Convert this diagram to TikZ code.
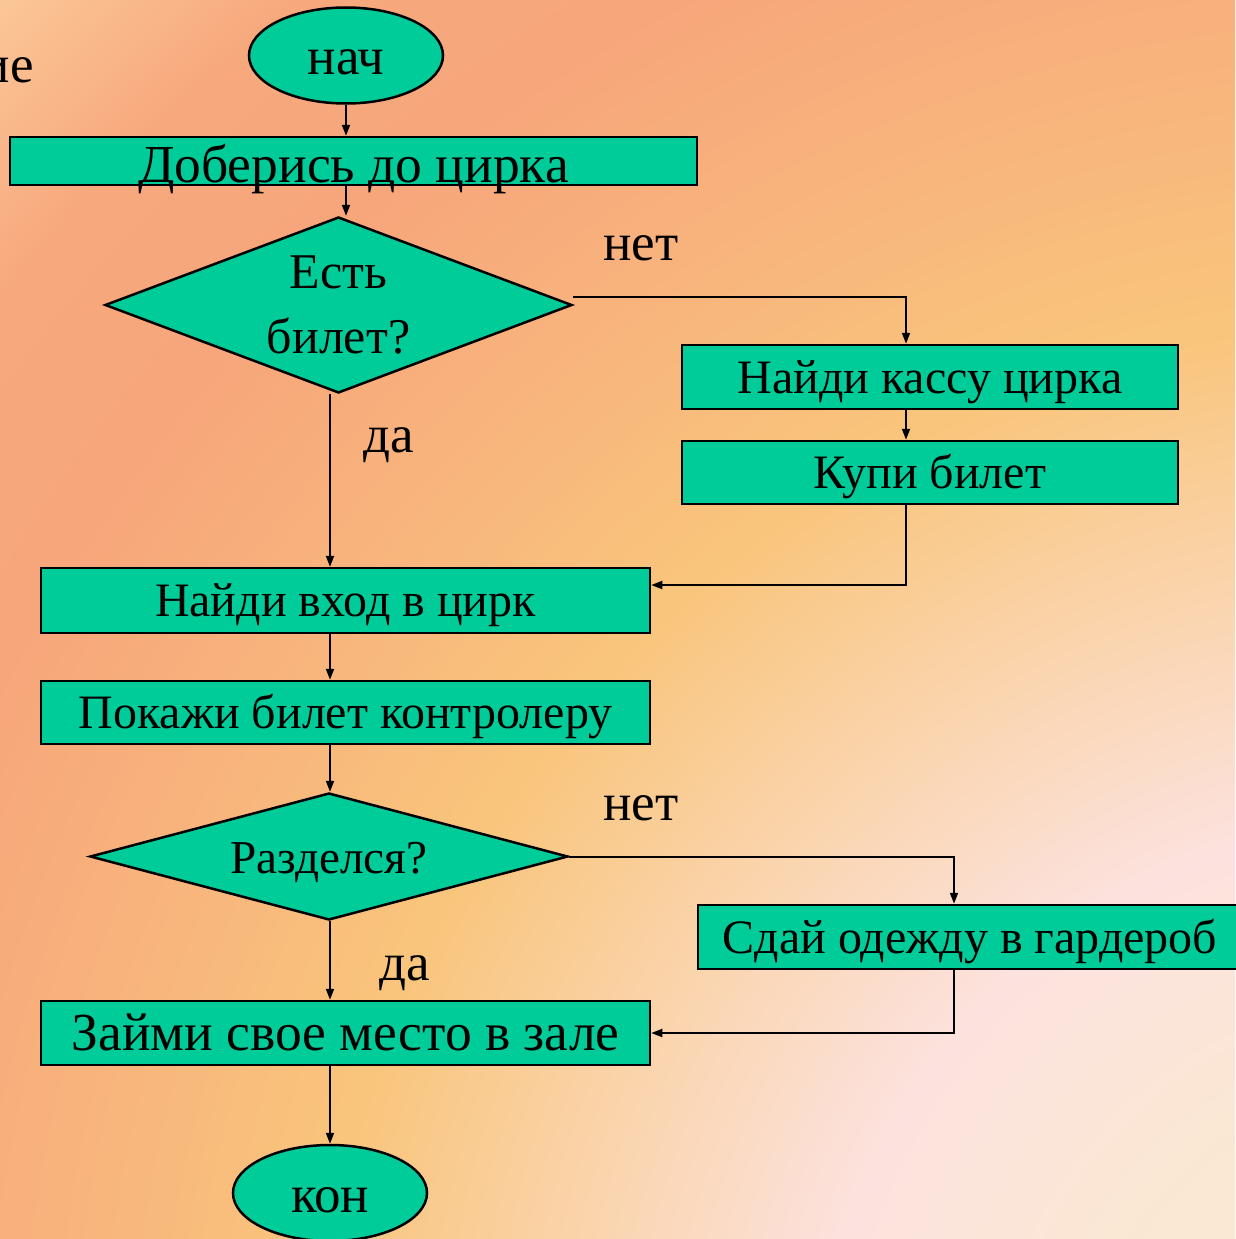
\documentclass[tikz,border=0pt]{standalone}
\usepackage{fontspec}
\setmainfont{Liberation Serif}
\usetikzlibrary{shapes.geometric,arrows.meta}
\definecolor{boxgreen}{RGB}{0,204,153}
\definecolor{bgA}{RGB}{250,232,210}
\definecolor{bgB}{RGB}{252,226,222}
\definecolor{bgC}{RGB}{250,212,172}
\definecolor{bgD}{RGB}{249,197,124}
\definecolor{bgE}{RGB}{248,180,124}
\definecolor{bgF}{RGB}{247,166,123}
\definecolor{bgG}{RGB}{247,168,125}
\definecolor{bgH}{RGB}{251,198,150}
\definecolor{bgI}{RGB}{252,204,156}
\pgfdeclareradialshading{bgrad}{\pgfpoint{0bp}{0bp}}{color(0bp)=(bgA); color(3.6bp)=(bgA); color(7.1bp)=(bgB); color(10.1bp)=(bgC); color(13.1bp)=(bgD); color(16.1bp)=(bgE); color(19bp)=(bgF); color(21.4bp)=(bgG); color(23.8bp)=(bgH); color(25bp)=(bgI); color(50bp)=(bgI)}
\begin{document}
\begin{tikzpicture}[x=1pt,y=-1pt,
  box/.style={draw=black, line width=2.5pt, fill=boxgreen, rectangle, inner sep=0pt,
    text height=32pt, text depth=0pt, font=\fontsize{48}{56}\selectfont},
  term/.style={draw=black, line width=2.5pt, fill=boxgreen, ellipse, inner sep=0pt,
    minimum width=194, minimum height=96, text height=38pt, text depth=0pt,
    font=\fontsize{53}{60}\selectfont},
  decide/.style={draw=black, line width=2.5pt, fill=boxgreen, diamond, inner sep=0pt,
    align=center, font=\fontsize{50}{65}\selectfont},
  lab/.style={anchor=base, inner sep=0pt, font=\fontsize{53}{60}\selectfont},
  arr/.style={line width=2pt, -{Triangle[length=11pt,width=8pt]}}]
\useasboundingbox (0,0) rectangle (1235,1239);
\begin{scope}
  \clip (0,0) rectangle (1235,1239);
  \shade[shading=bgrad] (1416,1415) circle (2100);
\end{scope}
% helper columns
\coordinate (colA) at (906,0);
\coordinate (colB) at (330,0);
\coordinate (colC) at (954,0);
% nodes
\node[term] (start) at (346,55.5) {нач};
\node[box, minimum width=687, minimum height=48, text height=42pt, font=\fontsize{53.5}{64}\selectfont] (dob) at (353.5,161) {Доберись до цирка};
\node[decide, aspect=2.65, minimum width=467, minimum height=176] (d1) at (338.5,305) {Есть\\билет?};
\node[box, minimum width=496, minimum height=64] (kassa) at (930,377) {Найди кассу цирка};
\node[box, minimum width=496, minimum height=63] (kupi) at (930,472.5) {Купи билет};
\node[box, minimum width=609, minimum height=65] (vhod) at (345.5,600.5) {Найди вход в цирк};
\node[box, minimum width=609, minimum height=63] (pokaz) at (345.5,712.5) {Покажи билет контролеру};
\node[decide, aspect=3.76, minimum width=478, minimum height=127, text height=33pt, text depth=0pt, font=\fontsize{47.2}{56}\selectfont] (d2) at (329,856.5) {Разделся?};
\node[box, minimum width=544, minimum height=64] (sdai) at (970,937) {Сдай одежду в гардероб};
\node[box, minimum width=609, minimum height=64, text height=34pt, font=\fontsize{53.5}{62}\selectfont] (zaimi) at (345.5,1033) {Займи свое место в зале};
\node[term] (kon) at (330,1193) {кон};
% labels
\node[lab, anchor=base east] (ie) at (34,82) {ие};
\node[lab] (net1) at (641,260) {нет};
\node[lab] (da1) at (389,452) {да};
\node[lab] (net2) at (641,820) {нет};
\node[lab] (da2) at (405,980) {да};
% connectors
\draw[arr] (start.south) -- (start.south |- dob.north);
\draw[arr] (dob.south -| start.south) -- (d1.north -| start.south);
\draw[arr] ([yshift=8pt]d1.east) -| (kassa.north -| colA);
\draw[arr] (kassa.south -| colA) -- (kupi.north -| colA);
\draw[arr] (kupi.south -| colA) |- ([yshift=15.5pt]vhod.east);
\draw[arr] (d1.south -| colB) -- (vhod.north -| colB);
\draw[arr] (vhod.south -| colB) -- (pokaz.north -| colB);
\draw[arr] (pokaz.south -| colB) -- (d2.north -| colB);
\draw[arr] (d2.east) -| (sdai.north -| colC);
\draw[arr] (sdai.south -| colC) |- (zaimi.east);
\draw[arr] (d2.south -| colB) -- (zaimi.north -| colB);
\draw[arr] (zaimi.south -| colB) -- (kon.north -| colB);
\end{tikzpicture}
\end{document}
